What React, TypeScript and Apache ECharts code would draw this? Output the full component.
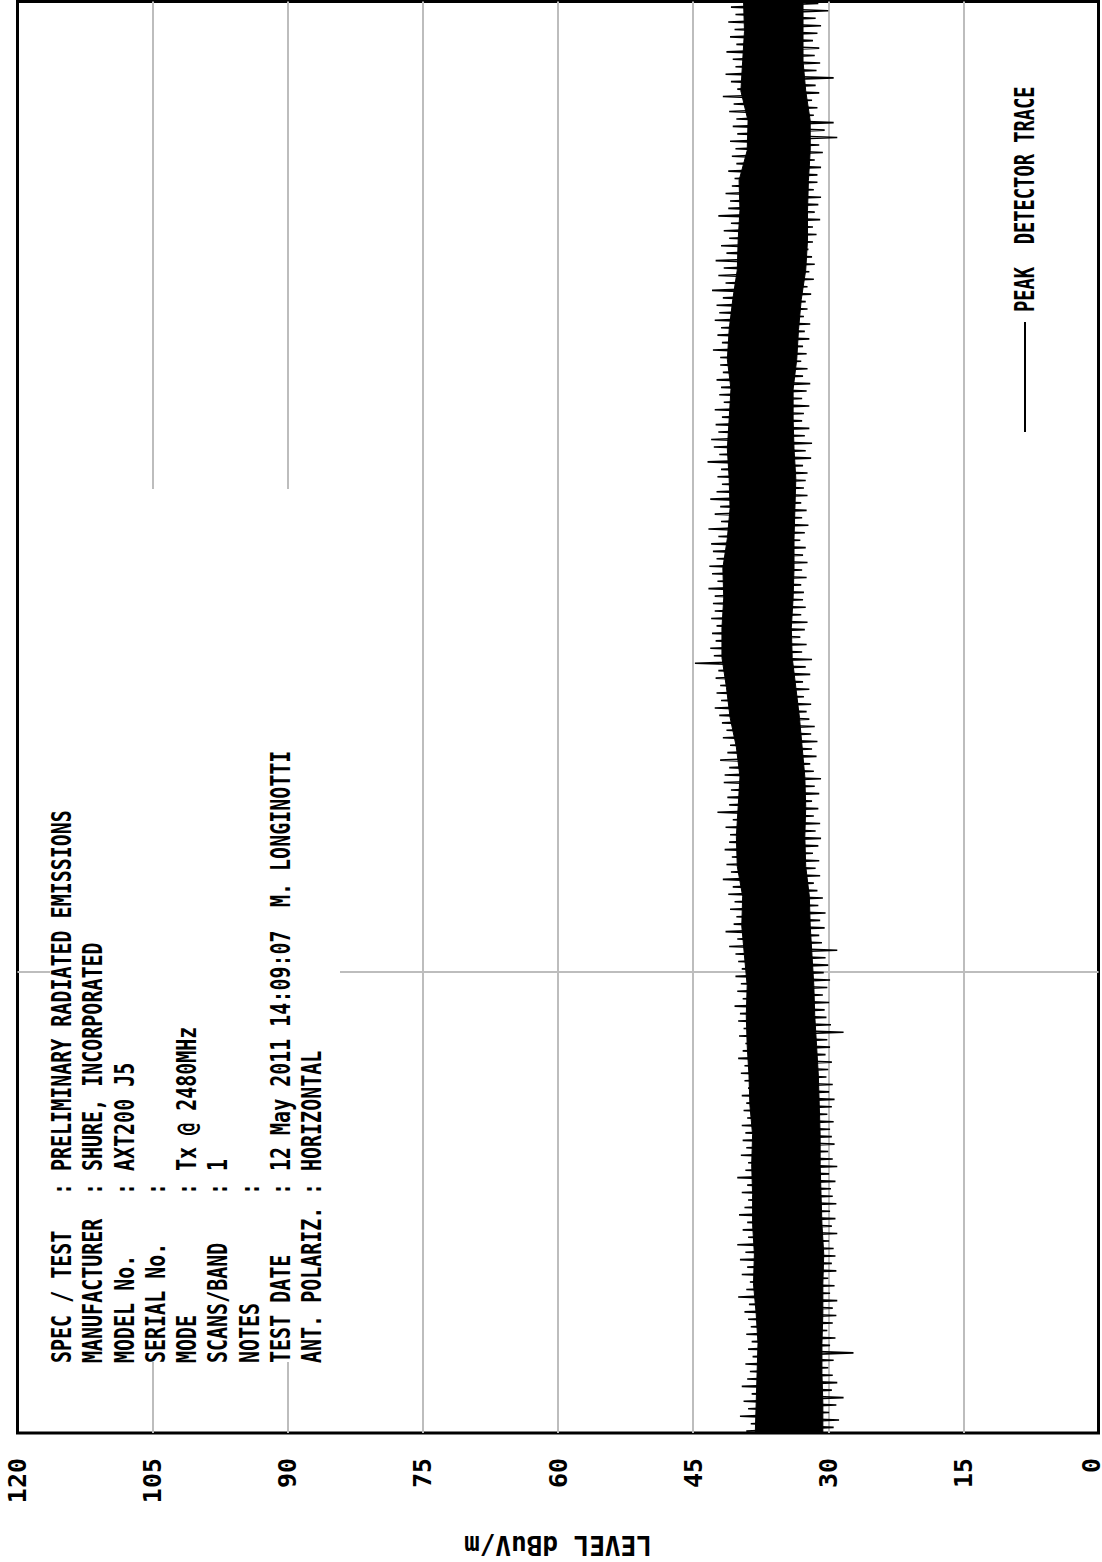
import React, { useEffect, useRef } from "react";
import * as echarts from "echarts";

// ---- level axis (dBuV/m), drawn horizontally, 120 at the left ----
const LEVEL_MIN = 0;
const LEVEL_MAX = 120;
const LEVEL_STEP = 15;

// ---- frequency axis (unlabelled, runs from image bottom to image top) ----
const FREQ_SPAN = 96;
const FREQ_GRIDLINE = 30.9;

// solid core of the peak trace, sampled every 2 freq units (ascending frequency)
const coreHigh = [
  38.1, 38.0, 37.9, 37.8, 38.0, 38.3, 38.2, 38.4, 38.4, 38.5,
  38.4, 38.7, 38.8, 39.0, 39.1, 39.0, 39.3, 39.6, 39.5, 40.1,
  40.2, 40.0, 39.8, 40.2, 40.9, 41.3, 41.8, 41.8, 41.6, 41.7,
  41.2, 40.9, 41.0, 41.2, 41.0, 40.8, 41.2, 41.0, 40.6, 40.1,
  40.0, 39.8, 39.9, 39.0, 38.9, 39.7, 39.5, 39.3, 39.4,
];
const coreLow = [
  30.6, 30.6, 30.7, 30.7, 30.6, 30.6, 30.5, 30.7, 30.8, 30.9,
  30.9, 31.0, 31.1, 31.3, 31.5, 31.6, 31.8, 32.0, 32.1, 32.5,
  32.6, 32.5, 32.6, 32.9, 33.2, 33.6, 34.0, 34.1, 33.9, 33.8,
  33.8, 33.7, 33.6, 33.8, 33.9, 33.9, 33.5, 33.3, 33.0, 32.5,
  32.3, 32.3, 32.2, 32.0, 32.0, 32.5, 32.8, 32.8, 32.8,
];

// peak excursions of the trace, two per freq unit, high side (ascending frequency)
const peakHigh = [
  39.1, 38.6, 39.8, 38.9, 39.4, 38.5, 39.6, 39.0,
  38.7, 39.2, 38.4, 38.9, 38.5, 39.1, 38.6, 38.9,
  39.3, 38.8, 40.0, 39.1, 38.7, 39.6, 39.0, 39.8,
  39.2, 40.1, 38.9, 39.5, 39.0, 39.9, 39.3, 38.9,
  39.6, 39.0, 40.1, 39.2, 38.9, 39.7, 39.1, 39.5,
  39.2, 39.6, 39.0, 39.4, 39.1, 39.6, 38.9, 39.3,
  39.7, 39.3, 40.0, 39.5, 39.2, 39.9, 39.4, 40.0,
  39.8, 40.4, 39.5, 40.1, 39.7, 40.3, 39.6, 40.0,
  40.3, 41.0, 40.1, 41.4, 40.5, 40.2, 40.9, 40.4,
  41.1, 40.6, 41.7, 40.8, 41.3, 40.7, 41.5, 41.0,
  40.9, 41.4, 40.6, 42.3, 41.0, 41.2, 40.8, 41.6,
  41.5, 41.0, 42.0, 41.2, 40.9, 41.7, 41.3, 41.8,
  42.1, 42.6, 41.9, 42.4, 42.0, 42.5, 42.2, 44.8,
  42.7, 43.1, 42.5, 42.9, 42.4, 43.0, 42.6, 42.8,
  42.6, 43.3, 42.3, 42.9, 43.2, 42.4, 42.8, 43.0,
  42.2, 43.3, 41.9, 42.6, 42.0, 43.1, 42.4, 41.8,
  42.3, 41.9, 43.4, 42.1, 42.7, 43.0, 42.2, 42.5,
  41.8, 42.6, 41.6, 42.1, 41.9, 42.4, 41.7, 42.0,
  42.0, 42.8, 41.8, 42.3, 41.9, 42.6, 42.1, 42.4,
  41.7, 42.9, 41.4, 42.2, 41.6, 42.5, 41.3, 41.9,
  41.0, 41.6, 40.8, 42.2, 41.1, 40.9, 41.4, 40.7,
  40.4, 41.1, 40.2, 40.7, 40.3, 40.9, 40.1, 40.6,
  40.2, 41.0, 40.5, 41.7, 40.1, 40.8, 41.4, 40.3,
  40.6, 41.3, 40.2, 40.9, 40.4, 41.1, 40.3, 40.8,
];
// peak excursions, low side (ascending frequency)
const peakLow = [
  29.4, 28.8, 29.9, 29.1, 28.3, 29.6, 29.0, 29.5,
  30.0, 29.4, 27.2, 29.8, 29.2, 30.1, 29.5, 29.1,
  29.5, 29.0, 29.8, 29.3, 30.0, 29.1, 29.6, 29.2,
  29.4, 29.9, 29.0, 29.6, 29.2, 29.8, 29.1, 29.5,
  29.7, 29.2, 29.9, 29.0, 29.5, 30.0, 29.3, 29.6,
  29.8, 29.4, 30.1, 29.6, 29.3, 29.9, 29.5, 30.2,
  30.0, 29.6, 30.3, 29.8, 30.1, 28.3, 29.7, 30.2,
  30.4, 29.9, 30.6, 30.1, 29.8, 30.5, 30.0, 30.3,
  29.0, 30.7, 31.0, 30.4, 30.9, 30.3, 31.1, 30.6,
  31.2, 31.6, 30.9, 31.4, 31.0, 31.7, 31.1, 30.8,
  31.4, 30.9, 31.6, 31.1, 31.8, 31.0, 31.5, 30.8,
  31.6, 32.0, 31.3, 31.8, 31.2, 31.9, 31.5, 32.1,
  32.4, 31.9, 32.7, 32.1, 32.8, 32.0, 32.5, 31.8,
  32.9, 32.4, 33.1, 32.6, 32.3, 33.0, 32.5, 32.8,
  32.7, 33.0, 32.4, 32.9, 32.3, 32.8, 32.5, 33.1,
  32.6, 32.2, 32.9, 32.4, 33.0, 32.3, 32.7, 32.5,
  32.3, 32.8, 31.9, 32.5, 31.8, 32.6, 32.1, 32.9,
  32.7, 32.1, 32.9, 32.4, 32.0, 32.8, 32.3, 33.0,
  32.4, 32.8, 32.1, 32.6, 32.0, 32.7, 32.3, 32.5,
  31.9, 32.3, 31.6, 32.1, 31.5, 31.8, 32.2, 31.7,
  31.3, 31.7, 30.9, 31.5, 31.1, 30.8, 31.6, 31.2,
  31.2, 30.8, 31.5, 30.6, 31.0, 29.0, 30.4, 29.4,
  31.6, 31.2, 31.8, 31.0, 31.4, 29.4, 31.3, 30.9,
  31.5, 31.0, 31.7, 31.2, 30.8, 31.4, 30.0, 31.1,
];

// ---- header block ----
const headerLabels = [
  "SPEC / TEST",
  "MANUFACTURER",
  "MODEL No.",
  "SERIAL No.",
  "MODE",
  "SCANS/BAND",
  "NOTES",
  "TEST DATE",
  "ANT. POLARIZ.",
];
const headerValues = [
  "PRELIMINARY RADIATED EMISSIONS",
  "SHURE, INCORPORATED",
  "AXT200 J5",
  "",
  "Tx @ 2480MHz",
  "1",
  "",
  "12 May 2011 14:09:07",
  "HORIZONTAL",
];
const operatorName = "M. LONGINOTTI";
const legendName = "PEAK DETECTOR TRACE";
const axisName = "LEVEL dBuV/m";

const FONT = "'DejaVu Sans Mono', 'Liberation Mono', monospace";

function rotText(text: string, x: number, y: number, size = 27, sx = 0.74) {
  return {
    type: "text",
    x,
    y,
    rotation: Math.PI / 2,
    scaleX: sx,
    z: 9,
    silent: true,
    style: {
      text,
      fill: "#000",
      fontFamily: FONT,
      fontSize: size,
      fontWeight: "bold",
      align: "left",
      textAlign: "left",
      verticalAlign: "middle",
      textVerticalAlign: "middle",
    },
  };
}

function buildOption() {
  const coreStep = FREQ_SPAN / (coreHigh.length - 1);
  const pairStep = FREQ_SPAN / peakHigh.length;
  const traceData: number[][] = [];
  peakHigh.forEach((h, j) => {
    traceData.push([h, (j + 0.25) * pairStep]);
    traceData.push([peakLow[j], (j + 0.75) * pairStep]);
  });

  const CH = 12; // character advance along text
  const x0 = 62;
  const dx = 31.25;
  const yStart = 1363;
  const graphics: any[] = [
    {
      type: "rect",
      shape: { x: 50, y: 489, width: 290, height: 873 },
      style: { fill: "#fff" },
      z: 8,
      silent: true,
    },
  ];
  headerLabels.forEach((lab, i) => {
    const x = x0 + i * dx;
    graphics.push(rotText(lab, x, yStart));
    graphics.push(rotText(":", x, yStart - 14 * CH));
    if (headerValues[i]) graphics.push(rotText(headerValues[i], x, yStart - 16 * CH));
  });
  graphics.push(rotText(operatorName, x0 + 7 * dx, yStart - 38 * CH));

  // legend
  const LX = 1025;
  graphics.push({
    type: "line",
    shape: { x1: LX, y1: 432, x2: LX, y2: 322 },
    style: { stroke: "#000", lineWidth: 2 },
    z: 9,
    silent: true,
  });
  const parts = legendName.split(" ");
  graphics.push(rotText(parts[0], LX, 312, 26, 0.72));
  graphics.push(rotText(parts.slice(1).join(" "), LX, 312 - 6 * 11.3, 26, 0.72));

  const labelStyle = { fontFamily: FONT, fontSize: 25, fontWeight: "bold", color: "#000" };

  return {
    animation: false,
    backgroundColor: "#fff",
    grid: {
      show: true,
      left: 17.5,
      right: 3.5,
      top: 1.5,
      bottom: 129,
      borderColor: "#000",
      borderWidth: 3,
      containLabel: false,
      outerBoundsMode: "none",
    },
    xAxis: {
      type: "value",
      min: LEVEL_MIN,
      max: LEVEL_MAX,
      interval: LEVEL_STEP,
      inverse: true,
      name: axisName,
      nameLocation: "middle",
      nameGap: 99,
      nameRotate: 180,
      nameTextStyle: { fontFamily: FONT, fontSize: 26, fontWeight: "bold", color: "#000" },
      axisLine: { show: false },
      axisTick: { show: false },
      axisLabel: {
        rotate: 90,
        margin: 25,
        ...labelStyle,
        formatter: (v: number) => (v === LEVEL_MIN ? `{edge|${v}}` : `${v}`),
        rich: {
          edge: { ...labelStyle, padding: [0, 0, 14, 0] },
        },
      },
      splitLine: {
        show: true,
        showMinLine: false,
        showMaxLine: false,
        lineStyle: { color: "#bdbdbd", width: 2 },
      },
    },
    yAxis: {
      type: "value",
      min: 0,
      max: FREQ_SPAN,
      axisLine: { show: false },
      axisTick: { show: false },
      axisLabel: { show: false },
      splitLine: { show: false },
    },
    graphic: graphics,
    series: [
      {
        type: "custom",
        name: "core",
        z: 10,
        silent: true,
        data: coreHigh.map((v, k) => [v, k * coreStep]),
        encode: { x: 0, y: 1 },
        renderItem: (params: any, api: any) => {
          if (params.dataIndex !== 0) return null;
          const pts: number[][] = [];
          for (let k = 0; k < coreHigh.length; k++) pts.push(api.coord([coreHigh[k], k * coreStep]));
          for (let k = coreLow.length - 1; k >= 0; k--) pts.push(api.coord([coreLow[k], k * coreStep]));
          return {
            type: "polygon",
            shape: { points: pts },
            style: { fill: "#000", stroke: "#000", lineWidth: 1 },
          };
        },
        markLine: {
          silent: true,
          symbol: "none",
          label: { show: false },
          lineStyle: { color: "#bdbdbd", width: 2, type: "solid" },
          data: [{ yAxis: FREQ_GRIDLINE }],
        },
      },
      {
        type: "line",
        name: legendName,
        z: 11,
        silent: true,
        showSymbol: false,
        symbol: "none",
        data: traceData,
        lineStyle: { color: "#000", width: 1.6 },
      },
    ],
  };
}

export default function App() {
  const ref = useRef<HTMLDivElement>(null);
  useEffect(() => {
    if (!ref.current) return;
    document.documentElement.style.overflow = "hidden";
    document.body.style.margin = "0";
    document.body.style.overflow = "hidden";
    const chart = echarts.init(ref.current, null, { renderer: "svg" });
    chart.setOption(buildOption() as any);
    return () => chart.dispose();
  }, []);
  return (
    <div
      ref={ref}
      style={{ position: "absolute", left: 0, top: 0, width: 1102, height: 1562, background: "#fff" }}
    />
  );
}
